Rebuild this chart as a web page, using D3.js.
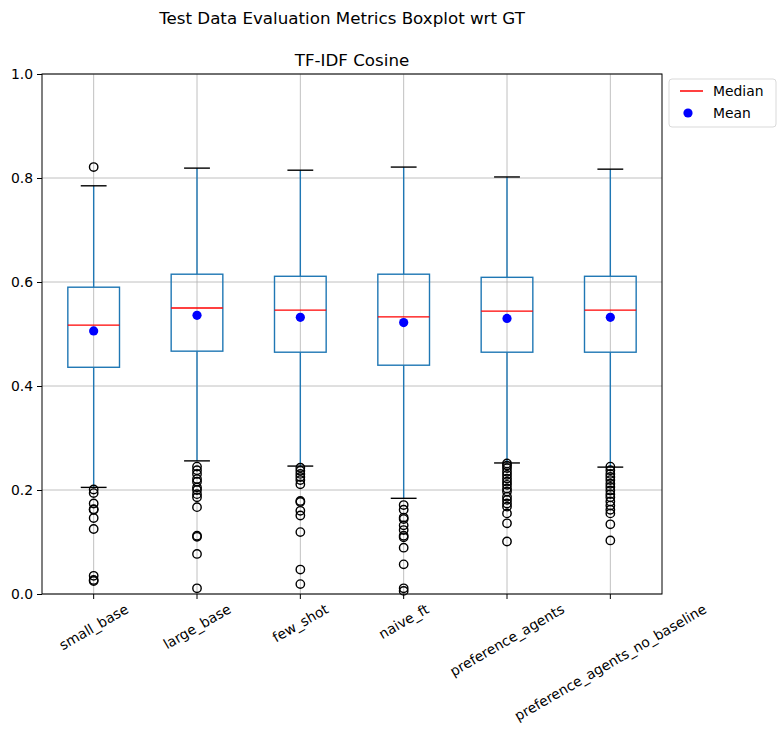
<!DOCTYPE html>
<html>
<head>
<meta charset="utf-8">
<script src="https://cdn.jsdelivr.net/npm/d3@7"></script>
<style>
  body { margin: 0; background: #fff; }
  text { font-family: "DejaVu Sans", sans-serif; }
</style>
</head>
<body>
<div class="root"></div>
<script>
// Box statistics
var categories = ["small_base", "large_base", "few_shot", "naive_ft", "preference_agents", "preference_agents_no_baseline"];
var q1 = [0.436, 0.467, 0.465, 0.440, 0.465, 0.465];
var q3 = [0.590, 0.615, 0.611, 0.615, 0.609, 0.611];
var medians = [0.517, 0.550, 0.546, 0.533, 0.544, 0.546];
var means = [0.506, 0.536, 0.532, 0.522, 0.530, 0.532];
var whiskerLow = [0.205, 0.256, 0.246, 0.184, 0.252, 0.244];
var whiskerHigh = [0.785, 0.819, 0.815, 0.821, 0.802, 0.817];
var outliers = [
  [0.821, 0.201, 0.194, 0.174, 0.163, 0.162, 0.146, 0.125, 0.035, 0.027, 0.025],
  [0.245, 0.238, 0.231, 0.221, 0.216, 0.205, 0.200, 0.192, 0.186, 0.167, 0.112, 0.110, 0.077, 0.011],
  [0.243, 0.237, 0.231, 0.225, 0.219, 0.211, 0.179, 0.177, 0.160, 0.151, 0.119, 0.047, 0.019],
  [0.171, 0.162, 0.147, 0.144, 0.132, 0.123, 0.112, 0.109, 0.089, 0.057, 0.011, 0.006],
  [0.251, 0.247, 0.242, 0.235, 0.229, 0.222, 0.216, 0.210, 0.203, 0.197, 0.187, 0.181, 0.174, 0.168, 0.155, 0.136, 0.101],
  [0.245, 0.238, 0.231, 0.225, 0.219, 0.212, 0.206, 0.199, 0.192, 0.186, 0.178, 0.170, 0.162, 0.155, 0.134, 0.103]
];
var yTicks = [0, 0.2, 0.4, 0.6, 0.8, 1.0];

var margin = { top: 74, right: 117, bottom: 141, left: 42 },
    width = 779 - margin.left - margin.right,
    height = 735 - margin.top - margin.bottom;

var blue = "#1f77b4";

var svgRoot = d3.select(".root").append("svg")
    .attr("width", 779)
    .attr("height", 735);

var svg = svgRoot.append("g")
    .attr("transform", "translate(" + margin.left + "," + margin.top + ")");

var xScale = d3.scaleBand().domain(categories).range([0, width]).padding(0);
var yScale = d3.scaleLinear().domain([0, 1]).range([height, 0]);
var bw = xScale.bandwidth();
var cx = function (i) { return xScale(categories[i]) + bw / 2; };

// grid
svg.append("g").selectAll("line").data(yTicks).join("line")
    .attr("x1", 0).attr("x2", width)
    .attr("y1", d => yScale(d)).attr("y2", d => yScale(d))
    .attr("stroke", "#b0b0b0").attr("stroke-width", 0.8);
svg.append("g").selectAll("line").data(categories).join("line")
    .attr("x1", (d, i) => cx(i)).attr("x2", (d, i) => cx(i))
    .attr("y1", 0).attr("y2", height)
    .attr("stroke", "#b0b0b0").attr("stroke-width", 0.8);

var boxes = svg.append("g").selectAll("g").data(categories).join("g");

// whiskers
boxes.append("line")
    .attr("x1", (d, i) => cx(i)).attr("x2", (d, i) => cx(i))
    .attr("y1", (d, i) => yScale(q3[i])).attr("y2", (d, i) => yScale(whiskerHigh[i]))
    .attr("stroke", blue).attr("stroke-width", 1.4);
boxes.append("line")
    .attr("x1", (d, i) => cx(i)).attr("x2", (d, i) => cx(i))
    .attr("y1", (d, i) => yScale(q1[i])).attr("y2", (d, i) => yScale(whiskerLow[i]))
    .attr("stroke", blue).attr("stroke-width", 1.4);

// caps
boxes.append("line")
    .attr("x1", (d, i) => cx(i) - bw / 8).attr("x2", (d, i) => cx(i) + bw / 8)
    .attr("y1", (d, i) => yScale(whiskerHigh[i])).attr("y2", (d, i) => yScale(whiskerHigh[i]))
    .attr("stroke", "black").attr("stroke-width", 1.4);
boxes.append("line")
    .attr("x1", (d, i) => cx(i) - bw / 8).attr("x2", (d, i) => cx(i) + bw / 8)
    .attr("y1", (d, i) => yScale(whiskerLow[i])).attr("y2", (d, i) => yScale(whiskerLow[i]))
    .attr("stroke", "black").attr("stroke-width", 1.4);

// box
boxes.append("rect")
    .attr("x", (d, i) => cx(i) - bw / 4)
    .attr("width", bw / 2)
    .attr("y", (d, i) => yScale(q3[i]))
    .attr("height", (d, i) => yScale(q1[i]) - yScale(q3[i]))
    .attr("fill", "none").attr("stroke", blue).attr("stroke-width", 1.4);

// median
boxes.append("line")
    .attr("x1", (d, i) => cx(i) - bw / 4).attr("x2", (d, i) => cx(i) + bw / 4)
    .attr("y1", (d, i) => yScale(medians[i])).attr("y2", (d, i) => yScale(medians[i]))
    .attr("stroke", "red").attr("stroke-width", 1.4);

// outliers
boxes.each(function (d, i) {
  d3.select(this).selectAll("circle.fl").data(outliers[i]).join("circle")
      .attr("class", "fl")
      .attr("cx", cx(i)).attr("cy", v => yScale(v)).attr("r", 4.2)
      .attr("fill", "none").attr("stroke", "black").attr("stroke-width", 1.4);
});

// mean
boxes.append("circle")
    .attr("cx", (d, i) => cx(i)).attr("cy", (d, i) => yScale(means[i]))
    .attr("r", 4.6).attr("fill", "blue");

// frame
svg.append("rect").attr("width", width).attr("height", height)
    .attr("fill", "none").attr("stroke", "black").attr("stroke-width", 1);

// Y axis
var yAxis = svg.append("g")
    .call(d3.axisLeft(yScale).tickValues(yTicks).tickFormat(d3.format(".1f")).tickSizeOuter(0).tickSize(5).tickPadding(4));
yAxis.select(".domain").remove();
yAxis.selectAll("text").attr("font-size", 13.9).attr("font-family", "DejaVu Sans").attr("fill", "black");
yAxis.selectAll("line").attr("stroke", "black");

// X axis ticks
svg.append("g").selectAll("line").data(categories).join("line")
    .attr("x1", (d, i) => cx(i)).attr("x2", (d, i) => cx(i))
    .attr("y1", height).attr("y2", height + 5)
    .attr("stroke", "black");

// X labels rotated 30 degrees, centred under tick
var fs = 13.9;
var a = 30 * Math.PI / 180;
svg.append("g").selectAll("text").data(categories).join("text")
    .attr("font-size", fs)
    .attr("text-anchor", "middle")
    .attr("dominant-baseline", "central")
    .text(d => d)
    .each(function (d, i) {
      var L = this.getComputedTextLength();
      var h = L * Math.sin(a) + fs * 1.1 * Math.cos(a);
      var y = height + 7 + h / 2;
      d3.select(this).attr("transform", "translate(" + cx(i) + "," + y + ") rotate(-30)");
    });

// titles
svg.append("text")
    .attr("x", width / 2).attr("y", -8)
    .attr("text-anchor", "middle")
    .attr("font-size", 16.7)
    .text("TF-IDF Cosine");
svgRoot.append("text")
    .attr("x", 342).attr("y", 24)
    .attr("text-anchor", "middle")
    .attr("font-size", 16.7)
    .text("Test Data Evaluation Metrics Boxplot wrt GT");

// legend
var lg = svgRoot.append("g").attr("transform", "translate(669,79)");
lg.append("rect").attr("width", 107).attr("height", 48).attr("rx", 3)
    .attr("fill", "white").attr("stroke", "#d9d9d9");
lg.append("line").attr("x1", 11).attr("x2", 34).attr("y1", 12).attr("y2", 12)
    .attr("stroke", "red").attr("stroke-width", 1.5);
lg.append("text").attr("x", 44).attr("y", 17).attr("font-size", 13.9).text("Median");
lg.append("circle").attr("cx", 19).attr("cy", 34).attr("r", 4.6).attr("fill", "blue");
lg.append("text").attr("x", 44).attr("y", 39).attr("font-size", 13.9).text("Mean");
</script>
</body>
</html>
